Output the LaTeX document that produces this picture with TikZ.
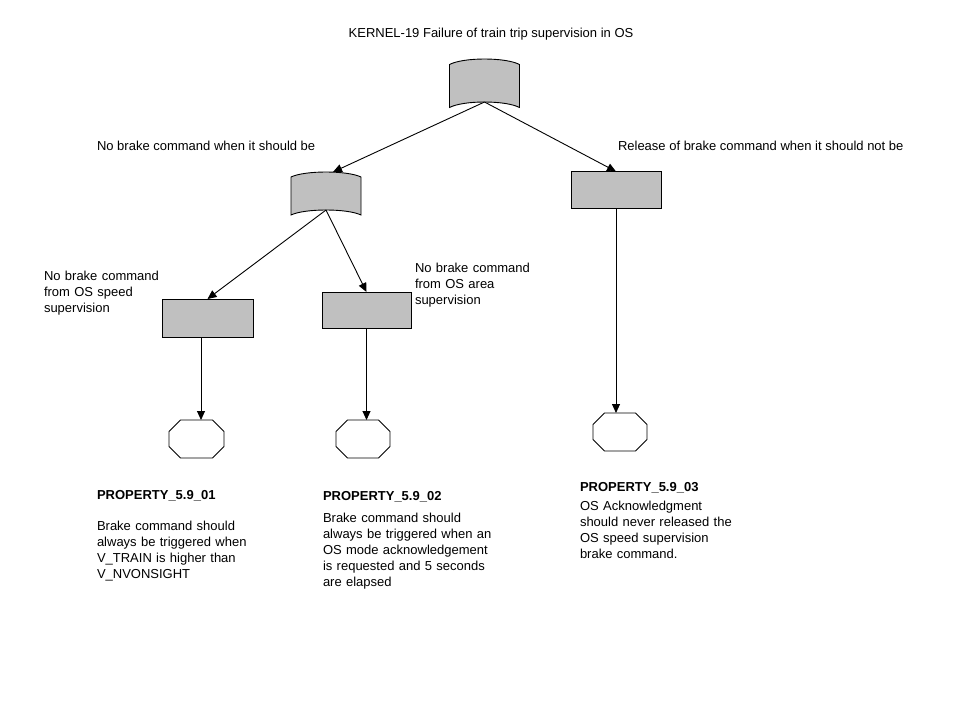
\documentclass[tikz,border=0pt]{standalone}
\usepackage{fontspec}
\setmainfont{Liberation Sans}
\usetikzlibrary{arrows.meta,calc}
\newcommand\drawocto[1]{%
  \draw[octline] ([xshift=11.5pt]#1.north west) -- ([xshift=-11.5pt]#1.north east)
    -- ([yshift=-11.5pt]#1.north east) -- ([yshift=11.5pt]#1.south east)
    -- ([xshift=-11.5pt]#1.south east) -- ([xshift=11.5pt]#1.south west)
    -- ([yshift=11.5pt]#1.south west) -- ([yshift=-11.5pt]#1.north west) -- cycle;}
\newcommand\drawgate[3]{% node, corner drop, control inset
  \draw[gatefill] ([yshift=-#2]#1.north west)
    .. controls ([xshift=#3,yshift=0.333*#2]#1.north west) and ([xshift=-#3,yshift=0.333*#2]#1.north east)
    .. ([yshift=-#2]#1.north east)
    -- ([yshift=-#2]#1.south east)
    .. controls ([xshift=-#3,yshift=0.333*#2]#1.south east) and ([xshift=#3,yshift=0.333*#2]#1.south west)
    .. ([yshift=-#2]#1.south west) -- cycle;}
\begin{document}
\begin{tikzpicture}[x=1pt,y={(0pt,-1pt)},
  every node/.style={inner sep=0pt, outer sep=0pt},
  txt/.style={font=\fontsize{13}{16}\selectfont, anchor=base west, text width=260pt, align=left},
  linetxt/.style={font=\fontsize{13}{16}\selectfont, anchor=base west},
  boldtxt/.style={font=\fontsize{13}{16}\selectfont\bfseries, anchor=base west},
  gatebox/.style={minimum width=70pt, draw=none},
  gatefill/.style={draw=black, line width=0.9pt, fill=graybox},
  evbox/.style={draw=black, line width=0.9pt, fill=graybox, minimum width=90pt, minimum height=37pt},
  octbox/.style={minimum width=55pt, minimum height=38pt, draw=none},
  octline/.style={draw=black, line width=0.9pt, fill=white},
  conn/.style={draw=black, line width=0.9pt},
  arr/.style={conn, -{Triangle[length=9pt,width=8pt]}}
]
\definecolor{graybox}{RGB}{192,192,192}
\useasboundingbox[fill=white] (0,0) rectangle (960,720);

% title
\node[font=\fontsize{13}{16}\selectfont, anchor=base] (title) at (491,37.5) {KERNEL-19 Failure of train trip supervision in OS};

% gates
\node[gatebox, minimum height=43pt] (g1) at (484.5,80.5) {};
\node[gatebox, minimum height=38pt] (g2) at (326,191) {};
\drawgate{g1}{5.5pt}{14pt}
\drawgate{g2}{5pt}{14pt}

% boxes
\node[evbox] (r1) at (616,190) {};
\node[evbox, minimum width=91pt, minimum height=38pt] (b1) at (207.5,318) {};
\node[evbox, minimum width=89pt, minimum height=36pt] (b2) at (366.5,310) {};

% octagons
\node[octbox] (o1) at (196.5,439) {};
\node[octbox, minimum width=54pt] (o2) at (363,439) {};
\node[octbox, minimum width=54pt] (o3) at (620,432) {};
\drawocto{o1}
\drawocto{o2}
\drawocto{o3}

% connectors
\draw[arr] (g1.south) -- ([xshift=7pt]g2.north);
\draw[arr] (g1.south) -- (r1.north);
\draw[arr] (g2.south) -- (b1.north);
\draw[arr] (g2.south) -- (b2.north);
\draw[arr] ([xshift=-6.5pt]b1.south) -- ([xshift=-6.5pt]b1.south |- o1.north);
\draw[arr] (b2.south) -- (b2.south |- o2.north);
\draw[arr] (r1.south) -- (r1.south |- o3.north);

% labels
\node[linetxt] (l1) at (97,150.5) {No brake command when it should be};
\node[linetxt] (l2) at (618,150.5) {Release of brake command when it should not be};
\node[txt] (l3) at (44,280) {No brake command\\from OS speed\\supervision};
\node[txt] (l4) at (415,272) {No brake command\\from OS area\\supervision};

% properties
\node[boldtxt] (p1t) at (97,499) {PROPERTY\_5.9\_01};
\node[txt] (p1) at (97,530) {Brake command should\\always be triggered when\\V\_TRAIN is higher than\\V\_NVONSIGHT};
\node[boldtxt] (p2t) at (323,500) {PROPERTY\_5.9\_02};
\node[txt] (p2) at (323,522) {Brake command should\\always be triggered when an\\OS mode acknowledgement\\is requested and 5 seconds\\are elapsed};
\node[boldtxt] (p3t) at (580,491) {PROPERTY\_5.9\_03};
\node[txt] (p3) at (580,510) {OS Acknowledgment\\should never released the\\OS speed supervision\\brake command.};
\end{tikzpicture}
\end{document}
